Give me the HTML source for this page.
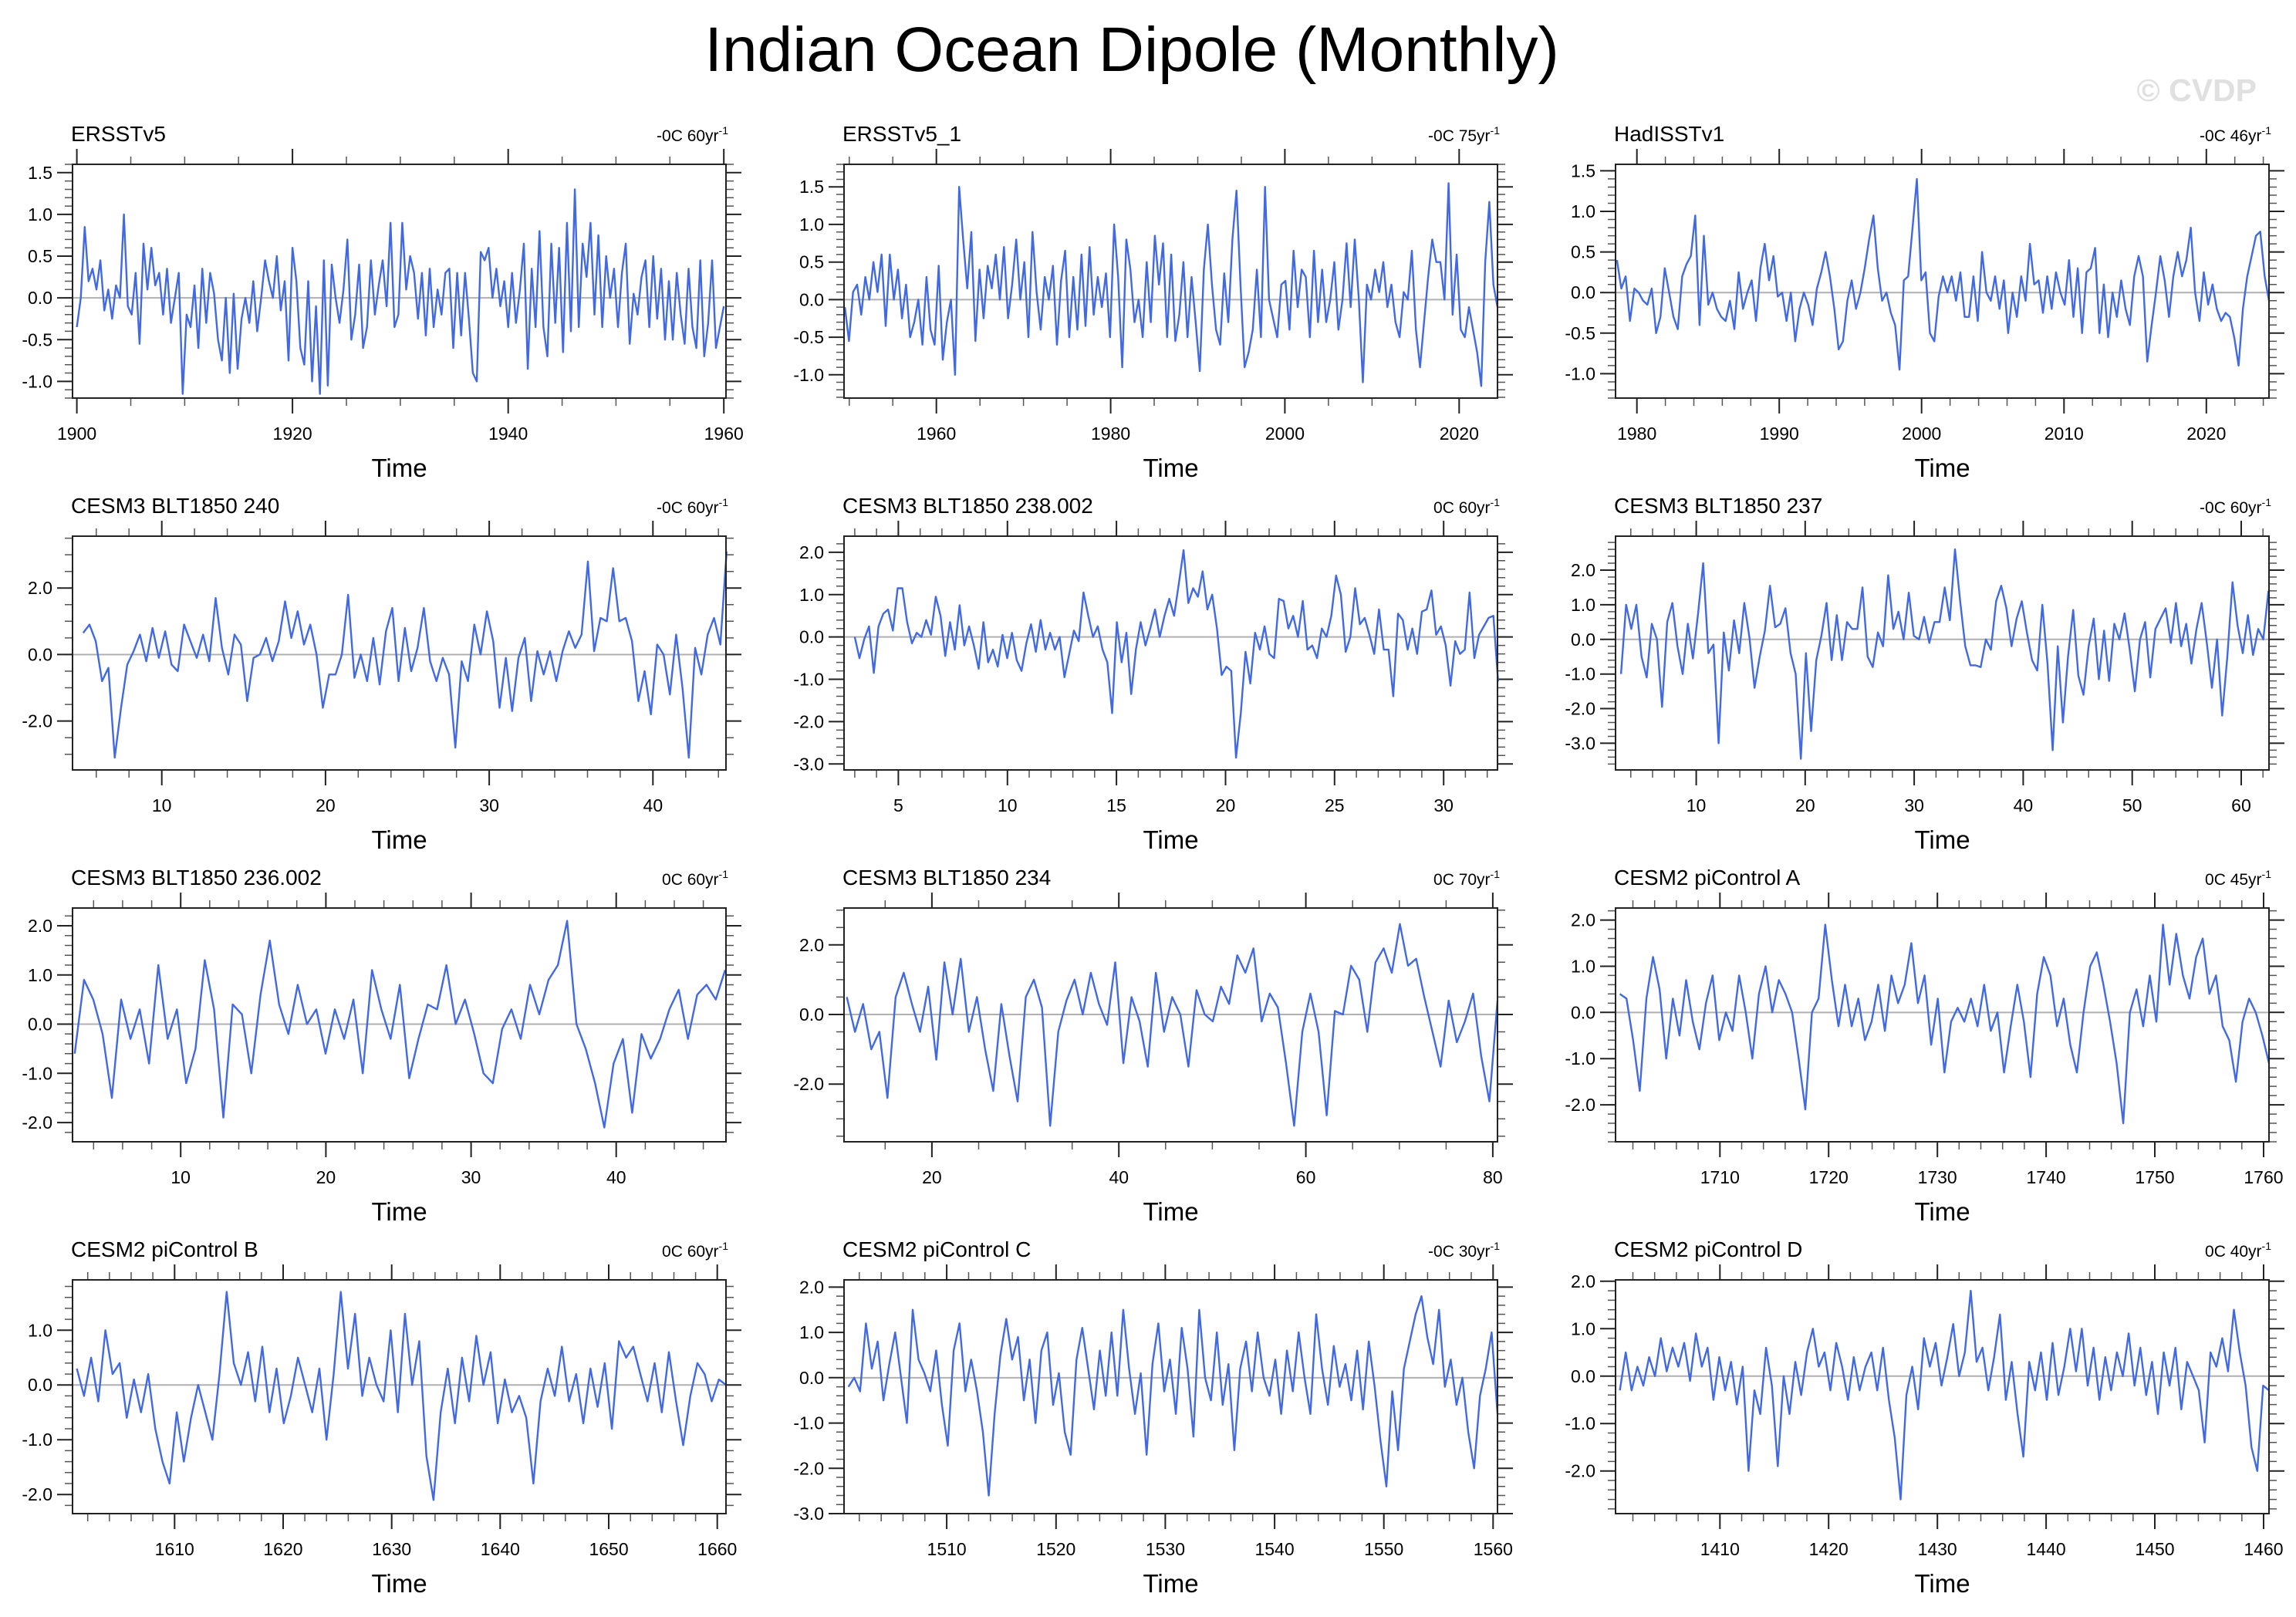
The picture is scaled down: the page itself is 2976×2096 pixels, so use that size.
<!DOCTYPE html>
<html><head><meta charset="utf-8">
<style>
html,body{margin:0;padding:0;background:#fff;}
svg{display:block;font-family:"Liberation Sans",Arial,sans-serif;}
</style></head>
<body>
<svg id="fig" width="2976" height="2096" viewBox="0 0 2976 2096" xmlns="http://www.w3.org/2000/svg">
<text x="1467" y="92" font-size="82" text-anchor="middle" fill="#000">Indian Ocean Dipole (Monthly)</text>
<text x="2925" y="131" font-size="41" font-weight="bold" text-anchor="end" fill="#e0e0e0">© CVDP</text>
</svg>
<script>
// ---------- data ----------
const p1Values=[-0.35,0.0,0.85,0.2,0.35,0.1,0.45,-0.15,0.1,-0.25,0.15,0.0,1.0,-0.1,-0.2,0.3,-0.55,0.65,0.1,0.6,0.15,0.3,-0.2,0.35,-0.3,0.0,0.3,-1.15,-0.2,-0.35,0.15,-0.6,0.35,-0.3,0.3,0.05,-0.5,-0.75,0.0,-0.9,0.05,-0.85,-0.25,0.0,-0.3,0.2,-0.4,0.0,0.45,0.2,0.0,0.5,-0.15,0.2,-0.75,0.6,0.2,-0.6,-0.8,0.2,-1.0,-0.1,-1.15,0.45,-1.05,0.4,0.0,-0.3,0.1,0.7,-0.5,-0.2,0.4,-0.6,-0.35,0.45,-0.2,0.15,0.45,-0.1,0.9,-0.35,-0.2,0.9,0.1,0.5,0.3,-0.25,0.3,-0.45,0.35,-0.35,0.1,-0.2,0.3,0.35,-0.6,0.3,-0.45,0.3,-0.25,-0.9,-1.0,0.55,0.45,0.6,0.0,0.35,-0.1,0.2,-0.35,0.3,-0.3,0.1,0.65,-0.85,0.35,-0.35,0.8,-0.35,-0.7,0.65,-0.3,0.6,-0.65,0.9,-0.4,1.3,-0.35,0.65,0.25,0.9,-0.2,0.75,-0.35,0.5,0.0,0.35,-0.35,0.3,0.65,-0.55,0.05,-0.2,0.25,0.45,-0.35,0.5,-0.25,0.35,-0.5,0.2,-0.5,0.3,-0.2,-0.55,0.35,-0.35,-0.6,0.45,-0.7,-0.3,0.45,-0.6,-0.35,-0.1];
const p2Values=[-0.1,-0.55,0.1,0.2,-0.2,0.3,0.0,0.5,0.1,0.6,-0.35,0.6,0.0,0.4,-0.25,0.2,-0.5,-0.3,0.0,-0.6,0.3,-0.4,-0.6,0.45,-0.8,-0.3,0.0,-1.0,1.5,0.8,0.15,0.9,-0.55,0.4,-0.25,0.45,0.15,0.6,0.0,0.7,-0.25,0.2,0.8,0.0,0.5,-0.5,0.9,0.1,-0.4,0.3,0.0,0.45,-0.6,0.25,0.65,-0.5,0.3,-0.4,0.6,-0.35,0.7,-0.2,0.3,-0.1,0.35,-0.5,1.0,0.3,-0.9,0.8,0.4,-0.3,0.0,-0.5,0.5,-0.3,0.85,0.2,0.75,-0.5,0.6,-0.55,-0.2,0.5,-0.5,0.3,-0.3,-0.95,0.4,1.0,0.2,-0.4,-0.6,0.35,-0.3,0.8,1.45,0.2,-0.9,-0.7,-0.4,0.4,-0.5,1.5,0.0,-0.25,-0.5,0.2,0.25,-0.4,0.65,-0.1,0.4,0.3,-0.5,0.65,-0.3,0.4,-0.3,0.0,0.5,-0.4,0.0,0.75,-0.1,0.8,0.0,-1.1,0.2,0.0,0.4,0.1,0.5,-0.1,0.2,-0.3,-0.5,0.1,0.0,0.65,-0.4,-0.9,-0.3,0.3,0.8,0.5,0.5,0.0,1.55,-0.2,0.6,-0.4,-0.5,-0.1,-0.4,-0.7,-1.15,0.5,1.3,0.2,-0.1];
const p3Values=[0.4,0.05,0.2,-0.35,0.05,0.0,-0.1,-0.15,0.05,-0.5,-0.3,0.3,0.0,-0.3,-0.45,0.2,0.35,0.45,0.95,-0.4,0.7,-0.15,0.0,-0.2,-0.3,-0.35,-0.1,-0.45,0.25,-0.2,0.0,0.15,-0.35,0.3,0.6,0.15,0.45,-0.05,0.0,-0.35,0.0,-0.6,-0.2,0.0,-0.15,-0.4,0.05,0.25,0.5,0.2,-0.2,-0.7,-0.6,-0.1,0.15,-0.2,0.0,0.3,0.65,0.95,0.3,-0.1,0.0,-0.25,-0.4,-0.95,0.15,0.2,0.8,1.4,0.15,0.25,-0.5,-0.6,-0.05,0.2,0.0,0.2,-0.1,0.25,-0.3,-0.3,0.2,-0.35,0.5,0.0,-0.1,0.2,-0.2,0.15,-0.5,0.0,-0.3,0.2,-0.1,0.6,0.1,0.15,-0.25,0.2,-0.2,0.25,0.0,-0.15,0.4,-0.3,0.3,-0.5,0.25,0.3,0.55,-0.5,0.1,-0.55,0.0,-0.3,0.15,-0.2,-0.4,0.2,0.45,0.2,-0.85,-0.4,0.0,0.45,0.15,-0.3,0.2,0.5,0.2,0.4,0.8,0.0,-0.35,0.25,-0.15,0.1,-0.2,-0.35,-0.25,-0.3,-0.55,-0.9,-0.2,0.2,0.45,0.7,0.75,0.2,-0.1];
const p4Values=[0.65,0.9,0.4,-0.8,-0.4,-3.1,-1.6,-0.3,0.1,0.6,-0.2,0.8,-0.1,0.7,-0.3,-0.5,0.9,0.4,-0.1,0.6,-0.2,1.7,0.2,-0.6,0.6,0.3,-1.4,-0.1,0.0,0.5,-0.2,0.4,1.6,0.5,1.3,0.3,0.9,0.0,-1.6,-0.6,-0.6,0.0,1.8,-0.7,0.0,-0.8,0.5,-0.9,0.7,1.4,-0.8,0.8,-0.5,0.2,1.4,-0.2,-0.8,-0.1,-0.6,-2.8,-0.2,-0.8,0.9,0.0,1.3,0.4,-1.6,-0.1,-1.7,-0.1,0.5,-1.4,0.1,-0.6,0.1,-0.8,0.1,0.7,0.2,0.6,2.8,0.1,1.1,1.0,2.6,1.0,1.1,0.4,-1.4,-0.5,-1.8,0.3,0.0,-1.2,0.6,-1.0,-3.1,0.2,-0.6,0.6,1.1,0.3,3.1];
const p5Values=[0.0,-0.5,-0.05,0.25,-0.85,0.25,0.55,0.65,0.15,1.15,1.15,0.35,-0.15,0.1,0.0,0.4,0.05,0.95,0.5,-0.45,0.35,-0.3,0.75,-0.2,0.25,-0.2,-0.75,0.35,-0.6,-0.3,-0.7,0.05,-0.5,0.1,-0.55,-0.8,-0.15,0.3,-0.35,0.4,-0.3,0.1,-0.3,0.0,-0.95,-0.4,0.15,-0.1,1.05,0.5,0.0,0.25,-0.3,-0.6,-1.8,0.35,-0.6,0.1,-1.35,-0.3,0.35,-0.2,0.2,0.65,0.0,0.5,0.9,0.5,1.25,2.05,0.8,1.15,0.95,1.55,0.65,1.0,0.2,-0.9,-0.7,-0.8,-2.85,-1.8,-0.35,-1.1,0.1,-0.3,0.25,-0.4,-0.5,0.9,0.85,0.2,0.5,0.0,0.85,-0.3,-0.2,-0.5,0.2,0.0,0.5,1.45,1.0,-0.35,0.0,1.15,0.3,0.45,0.05,-0.4,0.65,-0.3,-0.3,-1.4,0.55,0.4,-0.3,0.2,-0.4,0.6,0.65,1.1,0.05,0.25,-0.2,-1.15,-0.1,-0.4,-0.3,1.05,-0.5,0.05,0.25,0.45,0.5,-1.05];
const p6Values=[-1.0,1.0,0.3,1.0,-0.5,-1.1,0.45,0.0,-1.95,0.5,1.05,-0.2,-1.0,0.45,-0.55,0.75,2.2,-0.4,-0.15,-3.0,0.2,-0.9,0.55,-0.4,1.05,0.05,-1.4,-0.5,0.25,1.55,0.35,0.45,0.9,-0.4,-1.0,-3.45,-0.4,-2.65,-0.6,0.1,1.05,-0.6,0.7,-0.6,0.5,0.3,0.3,1.5,-0.5,-0.8,0.2,-0.2,1.85,0.3,0.8,0.0,1.35,0.1,0.0,0.65,-0.1,0.5,0.5,1.5,0.55,2.6,1.1,-0.2,-0.75,-0.75,-0.8,0.0,-0.3,1.1,1.55,0.9,-0.2,0.6,1.1,0.2,-0.6,-0.9,1.0,-0.7,-3.2,-0.2,-2.4,-0.5,0.85,-1.05,-1.6,-0.2,0.6,-1.15,0.25,-1.2,0.45,0.0,0.75,-0.3,-1.5,0.0,0.5,-1.1,0.3,0.6,0.9,-0.1,1.05,-0.2,0.45,-0.7,0.3,1.05,-0.1,-1.4,0.0,-2.2,-0.5,1.65,0.4,-0.4,0.7,-0.45,0.3,0.0,1.4];
const p7Values=[-0.6,0.9,0.5,-0.2,-1.5,0.5,-0.3,0.3,-0.8,1.2,-0.3,0.3,-1.2,-0.5,1.3,0.3,-1.9,0.4,0.2,-1.0,0.6,1.7,0.4,-0.2,0.8,0.0,0.3,-0.6,0.3,-0.3,0.5,-1.0,1.1,0.3,-0.3,0.8,-1.1,-0.3,0.4,0.3,1.2,0.0,0.5,-0.2,-1.0,-1.2,-0.1,0.3,-0.3,0.8,0.2,0.9,1.2,2.1,0.0,-0.5,-1.2,-2.1,-0.8,-0.3,-1.8,-0.2,-0.7,-0.3,0.3,0.7,-0.3,0.6,0.8,0.5,1.1];
const p8Values=[0.5,-0.5,0.3,-1.0,-0.5,-2.4,0.5,1.2,0.3,-0.5,0.8,-1.3,1.5,0.0,1.6,-0.5,0.5,-1.0,-2.2,0.3,-1.2,-2.5,0.5,1.0,0.2,-3.2,-0.5,0.4,1.0,0.0,1.2,0.3,-0.3,1.5,-1.4,0.5,-0.2,-1.5,1.2,-0.5,0.5,0.0,-1.5,0.7,0.0,-0.2,0.8,0.3,1.7,1.2,1.9,-0.2,0.6,0.2,-1.4,-3.2,-0.5,0.6,-0.5,-2.9,0.1,0.0,1.4,1.0,-0.5,1.5,1.9,1.2,2.6,1.4,1.6,0.5,-0.5,-1.5,0.4,-0.8,-0.2,0.6,-1.2,-2.5,0.4];
const p9Values=[0.4,0.3,-0.6,-1.7,0.3,1.2,0.5,-1.0,0.3,-0.5,0.7,-0.2,-0.8,0.2,0.8,-0.6,0.0,-0.4,0.8,0.0,-1.0,0.4,1.0,0.0,0.7,0.4,0.0,-1.0,-2.1,0.0,0.3,1.9,0.7,-0.3,0.6,-0.3,0.3,-0.6,-0.2,0.6,-0.4,0.8,0.2,0.6,1.5,0.2,0.8,-0.7,0.3,-1.3,-0.2,0.1,-0.2,0.3,-0.3,0.6,-0.4,0.0,-1.3,-0.3,0.6,-0.2,-1.4,0.4,1.2,0.8,-0.3,0.3,-0.7,-1.3,0.0,1.0,1.3,0.6,-0.2,-1.1,-2.4,0.0,0.5,-0.3,0.8,-0.2,1.9,0.6,1.7,0.8,0.3,1.2,1.6,0.4,0.8,-0.3,-0.6,-1.5,-0.2,0.3,0.0,-0.5,-1.1];
const p10Values=[0.3,-0.2,0.5,-0.3,1.0,0.2,0.4,-0.6,0.1,-0.5,0.2,-0.8,-1.4,-1.8,-0.5,-1.4,-0.6,0.0,-0.5,-1.0,0.2,1.7,0.4,0.0,0.6,-0.3,0.7,-0.5,0.3,-0.7,-0.2,0.5,0.0,-0.5,0.3,-1.0,0.2,1.7,0.3,1.3,-0.2,0.5,0.0,-0.3,1.0,-0.5,1.3,0.0,0.8,-1.3,-2.1,-0.5,0.3,-0.7,0.5,-0.3,0.9,0.0,0.6,-0.7,0.1,-0.5,-0.2,-0.6,-1.8,-0.3,0.3,-0.2,0.7,-0.3,0.2,-0.7,0.3,-0.4,0.4,-0.8,0.8,0.5,0.7,0.2,-0.3,0.4,-0.5,0.6,-0.3,-1.1,-0.2,0.4,0.2,-0.3,0.1,0.0];
const p11Values=[-0.2,0.0,-0.3,1.2,0.2,0.8,-0.5,0.3,1.0,0.0,-1.0,1.5,0.4,0.1,-0.3,0.6,-0.6,-1.5,0.6,1.2,-0.3,0.4,-0.3,-1.2,-2.6,-0.8,0.5,1.3,0.4,0.9,-0.5,0.4,-1.0,0.6,1.0,-0.6,0.1,-1.2,-1.7,0.4,1.1,0.2,-0.7,0.6,-0.4,1.0,-0.4,1.5,0.2,-0.8,0.1,-1.7,0.3,1.2,-0.3,0.4,-0.8,1.1,0.2,-1.3,1.5,0.0,-0.5,1.0,-0.6,0.3,-1.6,0.2,0.8,-0.3,1.0,0.0,-0.4,0.4,-0.8,0.6,-0.3,1.0,0.0,-0.8,1.4,0.2,-0.6,0.7,-0.2,0.3,-0.5,0.6,-0.7,0.8,-0.2,-1.4,-2.4,-0.3,-1.6,0.2,0.8,1.4,1.8,0.9,0.3,1.5,-0.2,0.4,-0.6,0.0,-1.2,-2.0,-0.4,0.2,1.0,-0.8];
const p12Values=[-0.3,0.5,-0.3,0.2,-0.2,0.4,0.0,0.8,0.1,0.6,0.2,0.7,-0.1,0.9,0.2,0.6,-0.5,0.4,-0.3,0.3,-0.6,0.2,-2.0,-0.3,-0.8,0.6,-0.2,-1.9,0.0,-0.8,0.3,-0.4,0.5,1.0,0.2,0.5,-0.3,0.7,0.2,-0.5,0.4,-0.3,0.2,0.5,-0.3,0.6,-0.5,-1.3,-2.6,-0.4,0.2,-0.7,0.8,0.2,0.7,-0.2,0.4,1.1,0.0,0.5,1.8,0.3,0.6,-0.3,0.4,1.3,-0.5,0.3,-0.8,-1.7,0.3,-0.3,0.5,-0.5,0.7,-0.4,0.2,1.0,0.1,1.0,-0.2,0.6,-0.5,0.4,-0.3,0.5,0.0,0.9,-0.2,0.6,-0.4,0.3,-0.8,0.5,-0.2,0.6,-0.7,0.3,0.0,-0.3,-1.4,0.5,0.2,0.8,0.1,1.4,0.5,-0.2,-1.5,-2.0,-0.2,-0.3];

const panelTitles=["ERSSTv5","ERSSTv5_1","HadISSTv1","CESM3 BLT1850 240","CESM3 BLT1850 238.002","CESM3 BLT1850 237","CESM3 BLT1850 236.002","CESM3 BLT1850 234","CESM2 piControl A","CESM2 piControl B","CESM2 piControl C","CESM2 piControl D"];
const trendLabels=["-0C 60yr","-0C 75yr","-0C 46yr","-0C 60yr","0C 60yr","-0C 60yr","0C 60yr","0C 70yr","0C 45yr","0C 60yr","-0C 30yr","0C 40yr"];
const seriesList=[p1Values,p2Values,p3Values,p4Values,p5Values,p6Values,p7Values,p8Values,p9Values,p10Values,p11Values,p12Values];
const timeStart=[1900,1949.5,1978.6,5.2,3.0,3.1,2.7,10.9,1700.8,1601,1501,1400.8];
const timeEnd=[1960,2024.4,2024.4,44.5,32.5,62.5,47.5,80.5,1760.5,1660.8,1560.4,1460.5];
const xMin=[1899.6,1949.4,1978.5,4.55,2.51,2.6,2.55,10.6,1700.4,1600.6,1500.6,1400.4];
const xMax=[1960.2,2024.4,2024.4,44.46,32.47,62.55,47.56,80.5,1760.5,1660.8,1560.4,1460.5];
const yMin=[-1.2,-1.31,-1.3,-3.47,-3.14,-3.77,-2.39,-3.66,-2.8,-2.35,-3.0,-2.9];
const yMax=[1.6,1.8,1.58,3.56,2.38,2.98,2.36,3.06,2.26,1.92,2.16,2.03];
const xTicks=[[1900,1920,1940,1960],[1960,1980,2000,2020],[1980,1990,2000,2010,2020],[10,20,30,40],[5,10,15,20,25,30],[10,20,30,40,50,60],[10,20,30,40],[20,40,60,80],[1710,1720,1730,1740,1750,1760],[1610,1620,1630,1640,1650,1660],[1510,1520,1530,1540,1550,1560],[1410,1420,1430,1440,1450,1460]];
const xMinorStep=[5,5,2,2,1,2,2,5,2,2,2,2];
const yTicks=[[-1,-0.5,0,0.5,1,1.5],[-1,-0.5,0,0.5,1,1.5],[-1,-0.5,0,0.5,1,1.5],[-2,0,2],[-3,-2,-1,0,1,2],[-3,-2,-1,0,1,2],[-2,-1,0,1,2],[-2,0,2],[-2,-1,0,1,2],[-2,-1,0,1],[-3,-2,-1,0,1,2],[-2,-1,0,1,2]];
const yMinorStep=[0.1,0.1,0.1,0.5,0.2,0.2,0.2,0.5,0.2,0.2,0.2,0.2];

// ---------- drawing ----------
const NS="http://www.w3.org/2000/svg";
const svg=document.getElementById('fig');
const colX=[94,1094,2094], rowY=[213,695,1177,1659], PW=847, PH=303;
function mk(tag,attrs,parent){const e=document.createElementNS(NS,tag);for(const k in attrs)e.setAttribute(k,attrs[k]);(parent||svg).appendChild(e);return e;}

for(let p=0;p<12;p++){
  const L=colX[p%3], T=rowY[Math.floor(p/3)], R=L+PW, B=T+PH;
  const g=mk('g',{});
  
  
  const sx=v=>L+(v-xMin[p])/(xMax[p]-xMin[p])*PW;
  const sy=v=>B-(v-yMin[p])/(yMax[p]-yMin[p])*PH;
  let d='';
  const x0=Math.ceil(xMin[p]/xMinorStep[p]-1e-9)*xMinorStep[p];
  for(let v=x0;v<=xMax[p]+1e-9;v+=xMinorStep[p]){const x=sx(v).toFixed(1);d+=`M${x} ${T}v-10M${x} ${B}v10`;}
  const y0=Math.ceil(yMin[p]/yMinorStep[p]-1e-9)*yMinorStep[p];
  for(let v=y0;v<=yMax[p]+1e-9;v+=yMinorStep[p]){const y=sy(v).toFixed(1);d+=`M${L} ${y}h-10M${R} ${y}h10`;}
  const minor=mk('path',{d:d,stroke:'#555',"stroke-width":1.5,fill:'none'},g);
  
  
  let dM='';
  xTicks[p].forEach(v=>{const x=sx(v).toFixed(1);dM+=`M${x} ${T}v-20M${x} ${B}v20`;});
  yTicks[p].forEach(v=>{const y=sy(v).toFixed(1);dM+=`M${L} ${y}h-20M${R} ${y}h20`;});
  const major=mk('path',{d:dM,stroke:'#222',"stroke-width":2,fill:'none'},g);
  
  
  const zl=mk('line',{x1:L,x2:R,y1:sy(0),y2:sy(0),stroke:'#b0b0b0',"stroke-width":2},g);
  
  
  const vals=seriesList[p], n=vals.length;
  let pd='';
  for(let i=0;i<n;i++){const t=timeStart[p]+(timeEnd[p]-timeStart[p])*i/(n-1);pd+=(i?'L':'M')+sx(t).toFixed(1)+' '+sy(vals[i]).toFixed(1);}
  const line=mk('path',{d:pd,stroke:'#4169e1',"stroke-width":2.4,fill:'none',"stroke-linejoin":'round'},g);
  
  
  const fr=mk('rect',{x:L,y:T,width:PW,height:PH,fill:'none',stroke:'#222',"stroke-width":2},g);
  
  
  xTicks[p].forEach(v=>{const t=mk('text',{x:sx(v),y:B+54,"font-size":23,"text-anchor":'middle'},g);t.textContent=String(v);
    
    });
  yTicks[p].forEach(v=>{const t=mk('text',{x:L-26,y:sy(v)+8,"font-size":23,"text-anchor":'end'},g);t.textContent=v.toFixed(1);
    
    });
  const xt=mk('text',{x:(L+R)/2,y:B+102,"font-size":33,"text-anchor":'middle'},g);xt.textContent='Time';
  
  
  const pt=mk('text',{x:L-2,y:T-30,"font-size":28},g);pt.textContent=panelTitles[p];
  
  
  const tl=mk('text',{x:R+3,y:T-30,"font-size":21,"text-anchor":'end'},g);
  tl.textContent=trendLabels[p];
  const sup=mk('tspan',{dy:-9,"font-size":14},tl);sup.textContent='-1';
  
  
}
</script>
</body></html>
